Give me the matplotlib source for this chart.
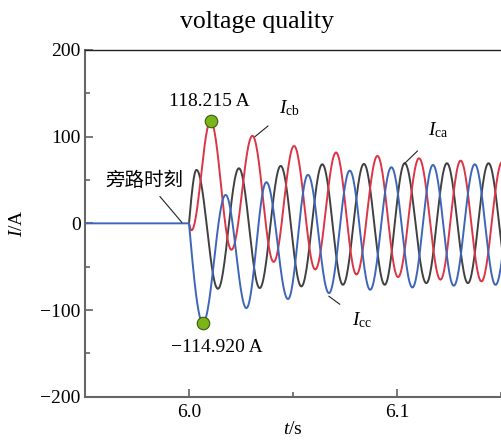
import numpy as np
import matplotlib.pyplot as plt

plt.rcParams['font.family'] = ['Liberation Serif', 'Noto Sans CJK SC']
plt.rcParams['mathtext.fontset'] = 'custom'
plt.rcParams['mathtext.rm'] = 'Liberation Serif'
plt.rcParams['mathtext.it'] = 'Liberation Serif:italic'

# ---- extrema of each branch current after bypass (time s, current A) ----
T_BYPASS = 6.0

icb_t = [6.0, 6.0012, 6.0104, 6.0204, 6.0305, 6.0407, 6.0505, 6.0607, 6.0707,
         6.0805, 6.0906, 6.1005, 6.1106, 6.1209, 6.1306, 6.1406, 6.1506, 6.1606]
icb_v = [0, -8, 118.215, -30.5, 101, -44.5, 89.3, -53.2, 81.8,
         -59, 77.8, -62, 75.1, -65, 72.4, -67, 71, -68]

ica_t = [6.0, 6.0036, 6.0139, 6.0240, 6.0340, 6.0441, 6.0540, 6.0641, 6.0740,
         6.0841, 6.0941, 6.1037, 6.1141, 6.1240, 6.1341, 6.1440, 6.1541, 6.1641]
ica_v = [0, 61.7, -75.5, 63.6, -74.7, 66.3, -72.8, 68.2, -70.9,
         68.6, -70.9, 69.4, -69, 69.4, -69, 69.4, -68.5, 69.5]

icc_t = [6.0, 6.0067, 6.0176, 6.0276, 6.0372, 6.0476, 6.0572, 6.0673, 6.0773,
         6.0871, 6.0973, 6.1074, 6.1173, 6.1273, 6.1374, 6.1474, 6.1574]
icc_v = [0, -114.920, 32.8, -97.8, 47.5, -87.4, 56, -80.5, 60.9,
         -76.7, 64.8, -74, 67.4, -72, 68.2, -71, 68.5]

T_START = 5.95


def build_wave(tp, vp, n=30, lead=False):
    # optional pre-bypass zero segment, then smooth half-cycle arcs between extrema
    ts, vs = [], []
    if lead:
        ts.append(np.array([T_START, tp[0]]))
        vs.append(np.array([0.0, 0.0]))
    for i in range(len(tp) - 1):
        s = np.linspace(0, 1, n)
        if i == 0:
            shape = np.sin(0.5 * np.pi * s)
        else:
            shape = 0.5 * (1 - np.cos(np.pi * s))
        ts.append(tp[i] + (tp[i + 1] - tp[i]) * s)
        vs.append(vp[i] + (vp[i + 1] - vp[i]) * shape)
    return np.concatenate(ts), np.concatenate(vs)


W, H = 501, 440
fig = plt.figure(figsize=(W / 100, H / 100), dpi=100)

# axes extends past the right edge of the figure
px_per_s = 2080.0
xmin, xmax = 5.95, 6.16
ax_w = (xmax - xmin) * px_per_s
ax = fig.add_axes([85 / W, (H - 396.7) / H, ax_w / W, 346.7 / H])

col_ca = '#404040'
col_cb = '#dc3545'
col_cc = '#3d66b8'

t, v = build_wave(ica_t, ica_v)
ax.plot(t, v, color=col_ca, lw=1.4)
t, v = build_wave(icb_t, icb_v)
ax.plot(t, v, color=col_cb, lw=1.4)
t, v = build_wave(icc_t, icc_v, lead=True)
ax.plot(t, v, color=col_cc, lw=1.4)

# peak markers
ax.plot([icb_t[2]], [icb_v[2]], 'o', ms=9, mfc='#7cb518', mec='#3a5a10', mew=0.8, zorder=5)
ax.plot([icc_t[1]], [icc_v[1]], 'o', ms=9, mfc='#7cb518', mec='#3a5a10', mew=0.8, zorder=5)

ax.set_xlim(xmin, xmax)
ax.set_ylim(-200, 200)
ax.set_xticks([6.0, 6.1])
ax.set_xticklabels(['6.0', '6.1'])
ax.set_xticks([6.05, 6.15], minor=True)
ax.set_yticks([-200, -100, 0, 100, 200])
ax.set_yticklabels(['\u2212200', '\u2212100', '0', '100', '200'])
ax.set_yticks([-150, -50, 50, 150], minor=True)
ax.tick_params(which='both', direction='in', color='#555555', labelsize=14)
ax.tick_params(which='major', length=6, width=1.1)
ax.tick_params(which='minor', length=3.5, width=1.1)
ax.tick_params(axis='x', pad=5)
ax.tick_params(axis='y', pad=3)

for side in ['left', 'bottom']:
    ax.spines[side].set_color('#666666')
    ax.spines[side].set_linewidth(1.5)
ax.spines['top'].set_color('#222222')
ax.spines['top'].set_linewidth(1.0)
ax.spines['right'].set_visible(False)

# annotations
ax.text(icb_t[2] - 0.0005, icb_v[2] + 22, '118.215 A', fontsize=14, ha='center', va='center')
ax.text(icc_t[1] + 0.0065, icc_v[1] - 28, '\u2212114.920 A', fontsize=14, ha='center', va='center')

ax.annotate('旁路时刻', xy=(5.9966, 1), xytext=(5.9787, 50),
            fontsize=14, ha='center', va='center', family=['Noto Sans CJK SC'],
            arrowprops=dict(arrowstyle='-', color='#222222', lw=0.8,
                            relpos=(0.63, 0), shrinkA=3, shrinkB=0))

ax.annotate('$I_{\\rm cb}$', xy=(6.0317, 100), xytext=(6.0485, 133),
            fontsize=14, ha='center', va='center',
            arrowprops=dict(arrowstyle='-', color='#222222', lw=0.8, shrinkA=8, shrinkB=0))
ax.annotate('$I_{\\rm ca}$', xy=(6.1036, 69), xytext=(6.1200, 107),
            fontsize=14, ha='center', va='center',
            arrowprops=dict(arrowstyle='-', color='#222222', lw=0.8, shrinkA=8, shrinkB=0))
ax.annotate('$I_{\\rm cc}$', xy=(6.0672, -84), xytext=(6.0830, -112),
            fontsize=14, ha='center', va='center',
            arrowprops=dict(arrowstyle='-', color='#222222', lw=0.8, shrinkA=8, shrinkB=0))

fig.text(257 / W, 1 - 22 / H, 'voltage quality', fontsize=18.5, ha='center', va='center')
fig.text(18 / W, 1 - 223 / H, '$I$/A', fontsize=14, ha='center', va='center', rotation=90)
fig.text(293 / W, 1 - 429 / H, '$t$/s', fontsize=14, ha='center', va='center')

fig.savefig('out.png', dpi=100)
